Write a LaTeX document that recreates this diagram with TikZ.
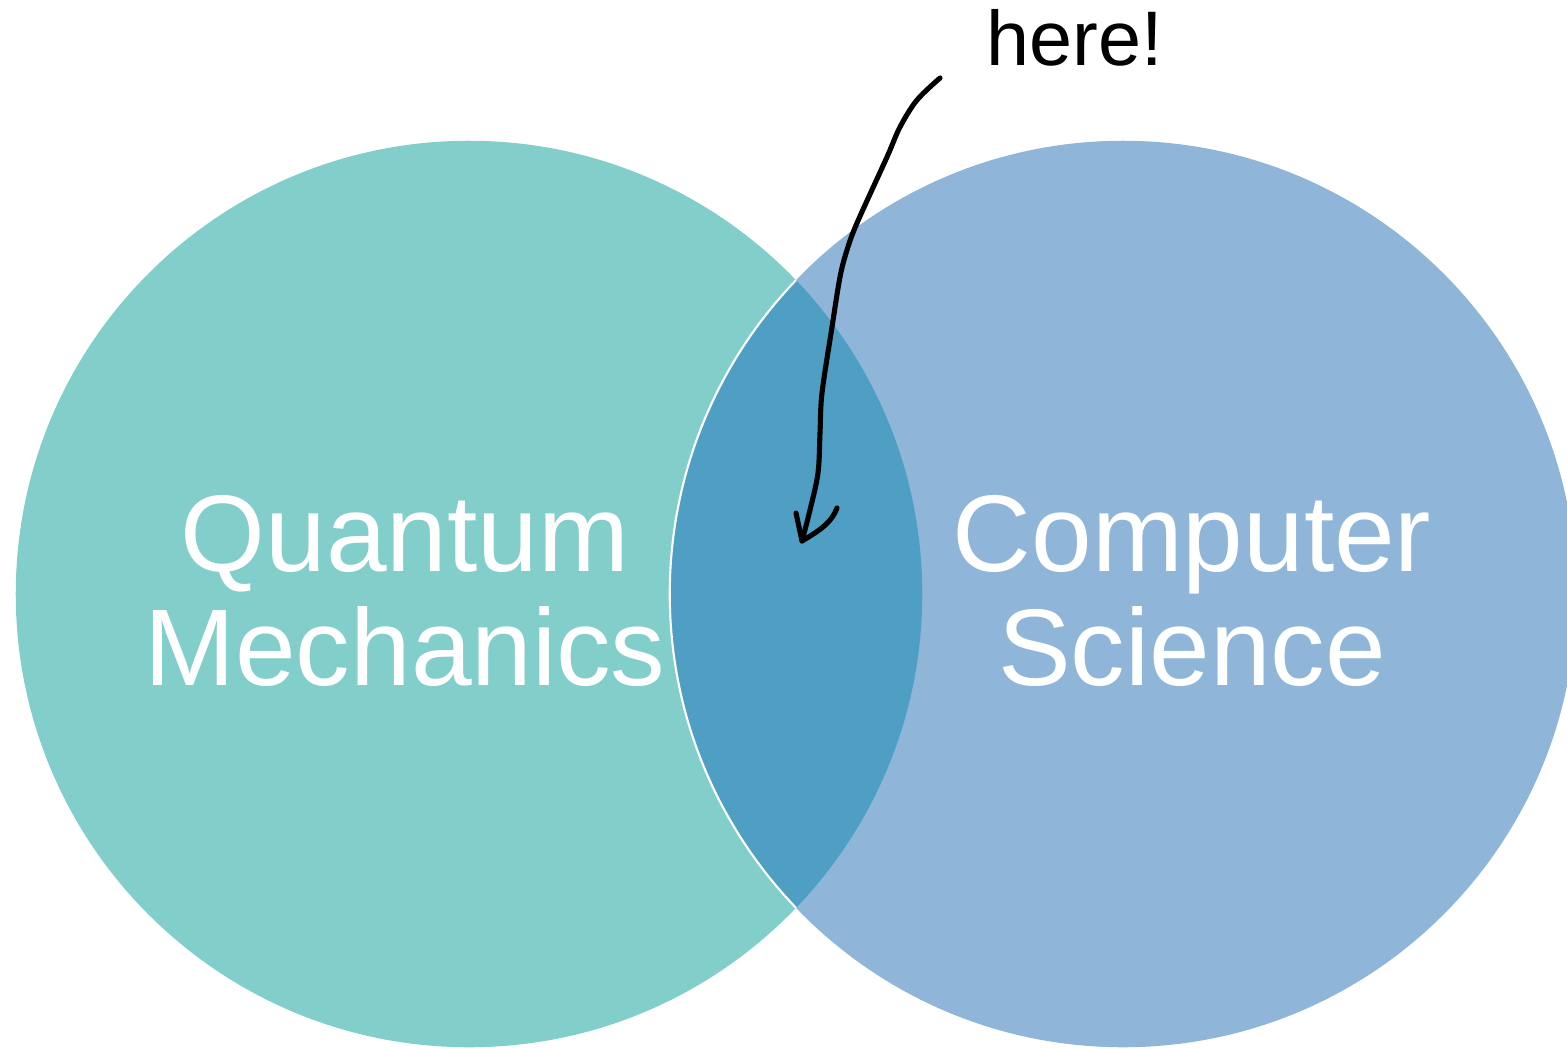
\documentclass[tikz,border=0pt]{standalone}
\usepackage{fontspec}
\setmainfont{Liberation Sans}
\definecolor{qmteal}{HTML}{82CECB}
\definecolor{csblue}{HTML}{8FB5D9}
\definecolor{bothblue}{HTML}{4F9EC3}
\begin{document}
\begin{tikzpicture}[
  x=0.01cm, y=-0.01cm,
  setlabel/.style={text=white, align=center, font=\fontsize{31}{32.5}\selectfont},
  note/.style={text=black, font=\fontsize{22}{26}\selectfont},
  scribble/.style={draw=black, line width=1.45pt, line cap=round, line join=round}
]
\useasboundingbox (0,0) rectangle (1567,1048);
\coordinate (qmc) at (469,594);
\coordinate (csc) at (1123,594);
\fill[qmteal] (qmc) circle [radius=4.53cm];
\fill[csblue] (csc) circle [radius=4.53cm];
\begin{scope}
  \clip (qmc) circle [radius=4.53cm];
  \fill[bothblue] (csc) circle [radius=4.53cm];
  \draw[white, line width=0.6pt] (csc) circle [radius=4.53cm];
\end{scope}
\node[setlabel] (qm) at (405,591) {Quantum\\Mechanics};
\node[setlabel] (cs) at (1192,591) {Computer\\Science};
\node[note, anchor=base] (here) at (1075,65) {here!};
\coordinate (tail) at (940,78);
\coordinate (tip) at (802,541);
\draw[scribble] plot[smooth, tension=0.55] coordinates {(tail) (917,100) (900,127) (887,157) (857,223) (847,250) (840,277) (832,327) (822,393) (820,433) (818,473) (810,510) (tip)};
\draw[scribble] (796,513) -- (tip) -- (807,538) .. controls (820,530) and (832,522) .. (837,508);
\end{tikzpicture}
\end{document}
